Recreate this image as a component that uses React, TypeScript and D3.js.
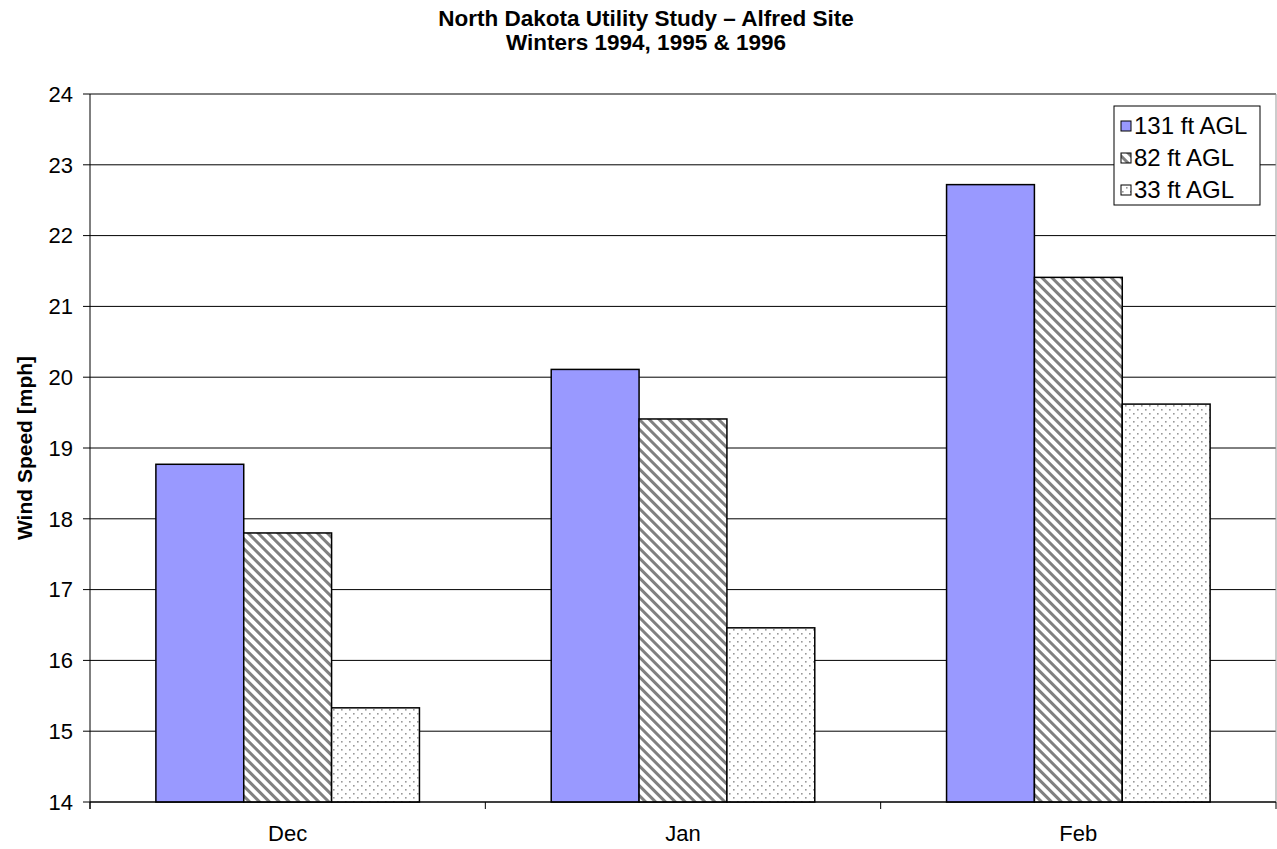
import React from 'react';
import * as d3 from 'd3';

// Alfred site winter mean wind speeds
const months = ['Dec', 'Jan', 'Feb'];
const heights = ['131 ft AGL', '82 ft AGL', '33 ft AGL'];
const speed131 = [18.77, 20.11, 22.72];
const speed82 = [17.8, 19.41, 21.41];
const speed33 = [15.33, 16.46, 19.62];
const yTicks = [14, 15, 16, 17, 18, 19, 20, 21, 22, 23, 24];

const W = 1277;
const H = 849;
const margin = { left: 90, right: 1276, top: 94, bottom: 802 };
const font = '"Liberation Sans", Arial, sans-serif';

export default function App() {
  const seriesValues = [speed131, speed82, speed33];
  const fills = ['#9999FF', 'url(#stripes)', 'url(#dots)'];

  const x = d3.scaleBand().domain(months).range([margin.left, margin.right]).paddingInner(0).paddingOuter(0);
  const xs = d3.scaleBand().domain(heights).range([0, x.bandwidth()]).paddingInner(0).paddingOuter(0.75);
  const y = d3.scaleLinear().domain([14, 24]).range([margin.bottom, margin.top]);

  const boundaries = months.map((m) => x(m) as number).concat([margin.right]);

  return (
    <svg width={W} height={H} style={{ position: 'absolute', left: 0, top: 0, background: '#fff' }} fontFamily={font}>
      <defs>
        <pattern id="stripes" patternUnits="userSpaceOnUse" width="7" height="7" patternTransform="rotate(-45)">
          <rect width="7" height="7" fill="#fff" />
          <rect x="0" y="0" width="3" height="7" fill="#808080" />
        </pattern>
        <pattern id="dots" patternUnits="userSpaceOnUse" width="8" height="8">
          <rect width="8" height="8" fill="#fff" />
          <rect x="1" y="1" width="1.6" height="1.6" fill="#999" />
          <rect x="5" y="5" width="1.6" height="1.6" fill="#999" />
        </pattern>
      </defs>

      {/* title */}
      <text x={646} y={26} textAnchor="middle" fontWeight="bold" fontSize={22.5}>
        North Dakota Utility Study – Alfred Site
      </text>
      <text x={646} y={50} textAnchor="middle" fontWeight="bold" fontSize={22.5}>
        Winters 1994, 1995 &amp; 1996
      </text>

      {/* gridlines + y ticks */}
      {yTicks.map((t) => (
        <g key={t}>
          <line x1={margin.left} x2={margin.right} y1={y(t)} y2={y(t)} stroke="#000" strokeWidth={1} />
          <line x1={margin.left - 7} x2={margin.left} y1={y(t)} y2={y(t)} stroke="#000" />
          <text x={73} y={y(t)} dy="0.35em" textAnchor="end" fontSize={22}>
            {t}
          </text>
        </g>
      ))}
      <line x1={margin.right} x2={margin.right} y1={margin.top} y2={margin.bottom} stroke="#999" />

      {/* bars */}
      {seriesValues.map((vals, si) =>
        months.map((m, i) => (
          <rect
            key={m + si}
            x={(x(m) as number) + (xs(heights[si]) as number)}
            y={y(vals[i])}
            width={xs.bandwidth()}
            height={y(14) - y(vals[i])}
            fill={fills[si]}
            stroke="#000"
            strokeWidth={1.5}
          />
        ))
      )}

      {/* axes */}
      <line x1={margin.left} x2={margin.left} y1={margin.top} y2={margin.bottom + 7} stroke="#000" />
      <line x1={margin.left} x2={margin.right} y1={margin.bottom} y2={margin.bottom} stroke="#000" />
      {boundaries.map((b, i) => (
        <line key={i} x1={b} x2={b} y1={margin.bottom} y2={margin.bottom + 7} stroke="#000" />
      ))}
      {months.map((m) => (
        <text key={m} x={(x(m) as number) + x.bandwidth() / 2} y={841} textAnchor="middle" fontSize={22}>
          {m}
        </text>
      ))}

      {/* y axis title */}
      <text transform={`translate(32,${(margin.top + margin.bottom) / 2}) rotate(-90)`} textAnchor="middle" fontWeight="bold" fontSize={21}>
        Wind Speed [mph]
      </text>

      {/* legend */}
      <rect x={1114} y={106} width={146} height={99} fill="#fff" stroke="#000" />
      {heights.map((h, i) => (
        <g key={h} transform={`translate(1121,${126 + i * 32})`}>
          <rect x={0} y={-5} width={10} height={10} fill={fills[i]} stroke="#000" />
          <text x={13} y={0} dy="0.35em" fontSize={24}>
            {h}
          </text>
        </g>
      ))}
    </svg>
  );
}
